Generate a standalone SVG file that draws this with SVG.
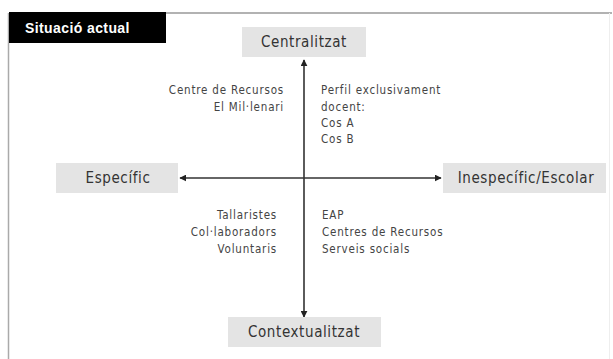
<svg xmlns="http://www.w3.org/2000/svg" width="613" height="359" viewBox="0 0 613 359">
<defs>
<style>
.box{fill:#e4e4e4;}
.lbl{font-family:"DejaVu Sans Condensed","DejaVu Sans",sans-serif;font-size:15px;letter-spacing:0.6px;fill:#333;}
.note{font-family:"DejaVu Sans Condensed","DejaVu Sans",sans-serif;font-size:11.5px;letter-spacing:0.8px;fill:#444;}
.axis{stroke:#333;stroke-width:1.6;fill:none;}
</style>
<marker id="ah" viewBox="0 0 10 10" refX="9" refY="5" markerWidth="7" markerHeight="7" orient="auto-start-reverse" markerUnits="userSpaceOnUse">
<path d="M0,0 L10,5 L0,10 z" fill="#222"/>
</marker>
</defs>
<rect width="613" height="359" fill="#fff"/>
<g id="frame">
<line x1="9" y1="13" x2="612" y2="13" stroke="#999" stroke-width="1.5"/>
<line x1="8.5" y1="13" x2="8.5" y2="359" stroke="#aaa" stroke-width="1.5"/>
<line x1="609.5" y1="13" x2="609.5" y2="359" stroke="#eee" stroke-width="1"/>
</g>
<g id="title">
<rect x="9" y="12" width="157" height="31" fill="#000"/>
<text x="25" y="33" font-family="'Liberation Sans',sans-serif" font-weight="bold" font-size="14" letter-spacing="0.4" fill="#fff">Situació actual</text>
</g>
<g id="connectors">
<line class="axis" x1="304" y1="317" x2="304" y2="60" marker-start="url(#ah)" marker-end="url(#ah)"/>
<line class="axis" x1="180" y1="178" x2="441" y2="178" marker-start="url(#ah)" marker-end="url(#ah)"/>
</g>
<g id="centralitzat">
<rect class="box" x="242" y="27" width="124" height="30"/>
<text class="lbl" x="304" y="47" text-anchor="middle">Centralitzat</text>
</g>
<g id="especific">
<rect class="box" x="56" y="163" width="122" height="30"/>
<text class="lbl" x="118" y="183" text-anchor="middle">Específic</text>
</g>
<g id="inespecific">
<rect class="box" x="443" y="163" width="163" height="30"/>
<text class="lbl" x="526" y="183" text-anchor="middle">Inespecífic/Escolar</text>
</g>
<g id="contextualitzat">
<rect class="box" x="228" y="317" width="153" height="30"/>
<text class="lbl" x="304" y="337" text-anchor="middle">Contextualitzat</text>
</g>
<g id="notes">
<text class="note" text-anchor="end"><tspan x="284" y="94">Centre de Recursos</tspan><tspan x="284" y="111">El Mil·lenari</tspan></text>
<text class="note"><tspan x="321" y="94">Perfil exclusivament</tspan><tspan x="321" y="111">docent:</tspan><tspan x="321" y="127">Cos A</tspan><tspan x="321" y="143">Cos B</tspan></text>
<text class="note" text-anchor="end"><tspan x="277" y="219">Tallaristes</tspan><tspan x="277" y="236">Col·laboradors</tspan><tspan x="277" y="253">Voluntaris</tspan></text>
<text class="note"><tspan x="322" y="219">EAP</tspan><tspan x="322" y="236">Centres de Recursos</tspan><tspan x="322" y="253">Serveis socials</tspan></text>
</g>
</svg>
